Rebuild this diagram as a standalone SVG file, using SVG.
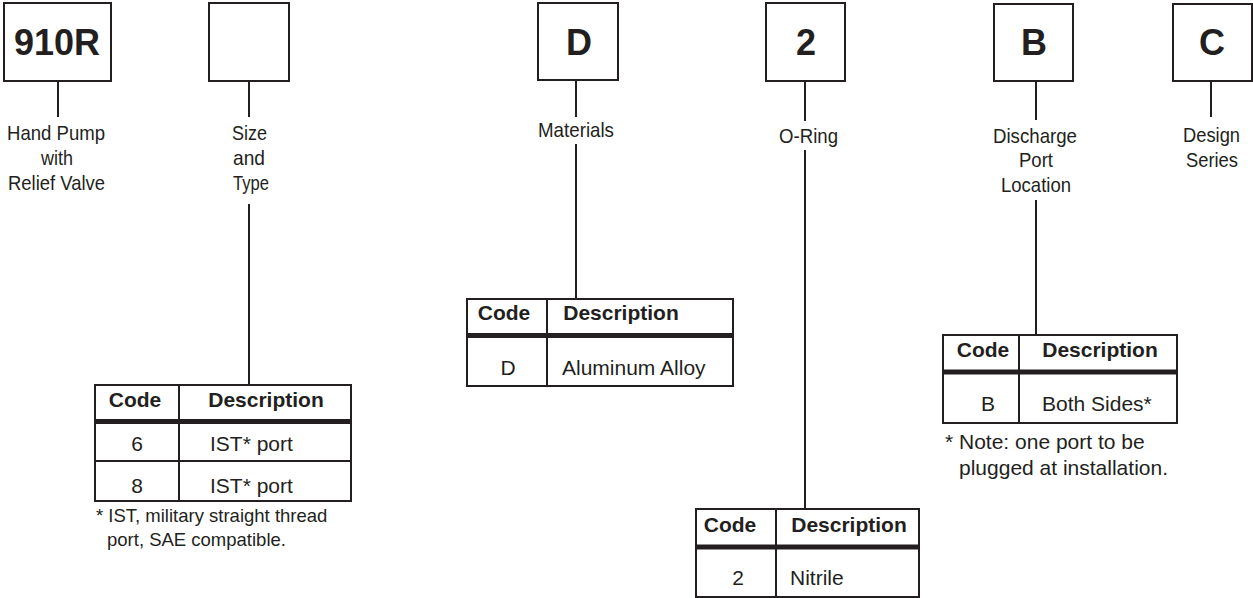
<svg xmlns="http://www.w3.org/2000/svg" width="1253" height="598" viewBox="0 0 1253 598">
<style>
.box{fill:#fff;stroke:#231f20;stroke-width:2}
.ln{stroke:#231f20;stroke-width:2;fill:none}
.thick{stroke:#231f20;stroke-width:5}
.big{font-family:"Liberation Sans",Arial,sans-serif;font-weight:bold;font-size:36px;fill:#231f20;text-anchor:middle}
.lbl{font-family:"Liberation Sans",Arial,sans-serif;font-size:21px;fill:#231f20;text-anchor:middle}
.th{font-family:"Liberation Sans",Arial,sans-serif;font-weight:bold;font-size:21px;fill:#231f20;text-anchor:middle}
.td{font-family:"Liberation Sans",Arial,sans-serif;font-size:21px;fill:#231f20}
.tc{text-anchor:middle}
.fn{font-family:"Liberation Sans",Arial,sans-serif;font-size:18.5px;fill:#231f20}
.fn2{font-family:"Liberation Sans",Arial,sans-serif;font-size:21px;fill:#231f20}
</style>
<g id="connectors">
<line class="ln" x1="58" y1="81" x2="58" y2="117"/>
<line class="ln" x1="249" y1="81" x2="249" y2="117"/>
<line class="ln" x1="249" y1="204" x2="249" y2="385"/>
<line class="ln" x1="576" y1="80" x2="576" y2="117"/>
<line class="ln" x1="576" y1="144" x2="576" y2="299"/>
<line class="ln" x1="805" y1="81" x2="805" y2="121"/>
<line class="ln" x1="805" y1="150" x2="805" y2="509"/>
<line class="ln" x1="1036" y1="81" x2="1036" y2="120"/>
<line class="ln" x1="1036" y1="200" x2="1036" y2="335"/>
<line class="ln" x1="1211" y1="81" x2="1211" y2="117"/>
</g>
<g id="node-910r">
<rect class="box" x="4" y="3" width="107" height="78"/>
<text class="big" x="57" y="55">910R</text>
<text class="lbl" x="56" y="140" textLength="98" lengthAdjust="spacingAndGlyphs">Hand Pump</text>
<text class="lbl" x="57" y="165" textLength="32" lengthAdjust="spacingAndGlyphs">with</text>
<text class="lbl" x="56.5" y="190" textLength="97" lengthAdjust="spacingAndGlyphs">Relief Valve</text>
</g>
<g id="node-size">
<rect class="box" x="209" y="3" width="80" height="78"/>
<text class="lbl" x="249.5" y="140" textLength="35" lengthAdjust="spacingAndGlyphs">Size</text>
<text class="lbl" x="249" y="165" textLength="32" lengthAdjust="spacingAndGlyphs">and</text>
<text class="lbl" x="251" y="190" textLength="36" lengthAdjust="spacingAndGlyphs">Type</text>
</g>
<g id="table-size">
<rect class="box" x="95" y="385" width="256" height="116"/>
<line class="ln" x1="179" y1="385" x2="179" y2="501"/>
<line class="thick" x1="95" y1="421.5" x2="351" y2="421.5"/>
<line class="ln" x1="95" y1="461" x2="351" y2="461"/>
<text class="th" x="135" y="407">Code</text>
<text class="th" x="266" y="407">Description</text>
<text class="td tc" x="137" y="451">6</text>
<text class="td" x="210" y="451">IST* port</text>
<text class="td tc" x="137" y="493">8</text>
<text class="td" x="210" y="493">IST* port</text>
<text class="fn" x="96" y="522">* IST, military straight thread</text>
<text class="fn" x="107" y="546">port, SAE compatible.</text>
</g>
<g id="node-d">
<rect class="box" x="538" y="3" width="80" height="77"/>
<text class="big" x="579" y="55">D</text>
<text class="lbl" x="576" y="137" textLength="76" lengthAdjust="spacingAndGlyphs">Materials</text>
</g>
<g id="table-materials">
<rect class="box" x="467" y="299" width="266" height="87"/>
<line class="ln" x1="547" y1="299" x2="547" y2="386"/>
<line class="thick" x1="467" y1="335.5" x2="733" y2="335.5"/>
<text class="th" x="504" y="320">Code</text>
<text class="th" x="621" y="320">Description</text>
<text class="td tc" x="508" y="375">D</text>
<text class="td" x="562" y="375">Aluminum Alloy</text>
</g>
<g id="node-2">
<rect class="box" x="766" y="3" width="79" height="78"/>
<text class="big" x="806" y="55">2</text>
<text class="lbl" x="808.5" y="143" textLength="59" lengthAdjust="spacingAndGlyphs">O-Ring</text>
</g>
<g id="table-oring">
<rect class="box" x="696" y="509" width="223" height="88"/>
<line class="ln" x1="776" y1="509" x2="776" y2="597"/>
<line class="thick" x1="696" y1="547" x2="919" y2="547"/>
<text class="th" x="730" y="532">Code</text>
<text class="th" x="849" y="532">Description</text>
<text class="td tc" x="738" y="585">2</text>
<text class="td" x="790" y="585">Nitrile</text>
</g>
<g id="node-b">
<rect class="box" x="994" y="4" width="79" height="77"/>
<text class="big" x="1034" y="55">B</text>
<text class="lbl" x="1035" y="143" textLength="84" lengthAdjust="spacingAndGlyphs">Discharge</text>
<text class="lbl" x="1036" y="167" textLength="34" lengthAdjust="spacingAndGlyphs">Port</text>
<text class="lbl" x="1036" y="192" textLength="70" lengthAdjust="spacingAndGlyphs">Location</text>
</g>
<g id="table-discharge">
<rect class="box" x="943" y="335" width="234" height="88"/>
<line class="ln" x1="1019" y1="335" x2="1019" y2="423"/>
<line class="thick" x1="943" y1="372" x2="1177" y2="372"/>
<text class="th" x="983" y="357">Code</text>
<text class="th" x="1100" y="357">Description</text>
<text class="td tc" x="988" y="411">B</text>
<text class="td" x="1042" y="411">Both Sides*</text>
<text class="fn2" x="945" y="449">* Note: one port to be</text>
<text class="fn2" x="959" y="475">plugged at installation.</text>
</g>
<g id="node-c">
<rect class="box" x="1173" y="4" width="79" height="77"/>
<text class="big" x="1212" y="55">C</text>
<text class="lbl" x="1211.5" y="142" textLength="57" lengthAdjust="spacingAndGlyphs">Design</text>
<text class="lbl" x="1212" y="167" textLength="52" lengthAdjust="spacingAndGlyphs">Series</text>
</g>
</svg>
